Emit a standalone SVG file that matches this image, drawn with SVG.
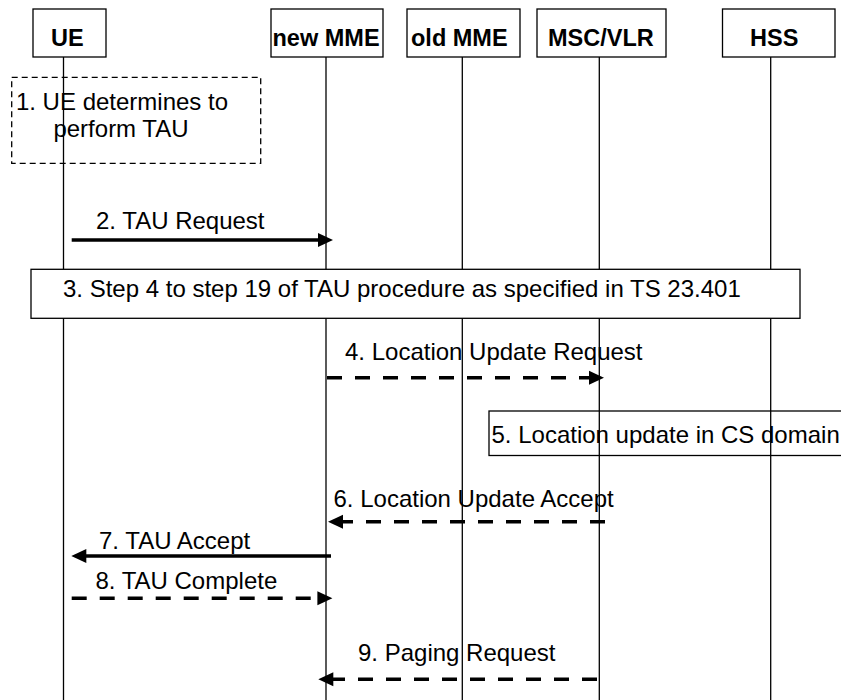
<svg xmlns="http://www.w3.org/2000/svg" width="841" height="700" viewBox="0 0 841 700">
<style>
.bg{fill:#fff}
.box{fill:#fff;stroke:#000;stroke-width:1.3}
.nofill{fill:none;stroke:#000;stroke-width:1.3}
.dbox{fill:none;stroke:#000;stroke-width:1.3;stroke-dasharray:6 4}
.life{stroke:#000;stroke-width:1.3}
.hdr{font-family:"Liberation Sans",Arial,sans-serif;font-weight:bold;font-size:23.5px;fill:#000}
.lbl{font-family:"Liberation Sans",Arial,sans-serif;font-size:24px;fill:#000}
.sol{stroke:#000;stroke-width:3.6;fill:none}
.dsh{stroke:#000;stroke-width:3.6;fill:none;stroke-dasharray:15 13}
.head{fill:#000}
</style>
<rect class="bg" x="0" y="0" width="841" height="700"/>
<g id="lifelines">
<line class="life" x1="63.5" y1="57" x2="63.5" y2="700"/>
<line class="life" x1="326" y1="57" x2="326" y2="700"/>
<line class="life" x1="462.3" y1="57" x2="462.3" y2="700"/>
<line class="life" x1="599.3" y1="57" x2="599.3" y2="700"/>
<line class="life" x1="770.7" y1="57" x2="770.7" y2="700"/>
</g>
<g id="UE"><rect class="box" x="33" y="9" width="73" height="48"/><text class="hdr" x="51" y="46">UE</text></g>
<g id="newMME"><rect class="box" x="271" y="9" width="112" height="48"/><text class="hdr" x="272.5" y="46">new MME</text></g>
<g id="oldMME"><rect class="box" x="407" y="9" width="113" height="48"/><text class="hdr" x="411" y="46">old MME</text></g>
<g id="MSCVLR"><rect class="box" x="537" y="9" width="129" height="48"/><text class="hdr" x="548" y="46">MSC/VLR</text></g>
<g id="HSS"><rect class="box" x="722.5" y="9" width="112.5" height="48"/><text class="hdr" x="750" y="46">HSS</text></g>
<g id="step1"><rect class="dbox" x="11.7" y="77.3" width="249" height="86"/>
<text class="lbl" x="122" y="110" text-anchor="middle">1. UE determines to</text>
<text class="lbl" x="121" y="137" text-anchor="middle">perform TAU</text></g>
<g id="step3"><rect class="box" x="31" y="269.3" width="769" height="49"/>
<text class="lbl" x="63" y="296.7">3. Step 4 to step 19 of TAU procedure as specified in TS 23.401</text></g>
<g id="step5"><rect class="nofill" x="489" y="411" width="360" height="44.5"/>
<text class="lbl" x="491.5" y="443">5. Location update in CS domain</text></g>
<g id="connectors">
<line class="sol" x1="71.7" y1="240" x2="320" y2="240"/>
<polygon class="head" points="333,240 318,233 318,247"/>
<line class="dsh" x1="327" y1="377.7" x2="591" y2="377.7"/>
<polygon class="head" points="604,377.7 589,370.7 589,384.7"/>
<line class="dsh" x1="605" y1="521.7" x2="341" y2="521.7"/>
<polygon class="head" points="328,521.7 343,514.7 343,528.7"/>
<line class="sol" x1="331" y1="556" x2="84" y2="556"/>
<polygon class="head" points="71.3,556 86.3,549 86.3,563"/>
<line class="dsh" x1="71.7" y1="598.3" x2="319" y2="598.3"/>
<polygon class="head" points="332.4,598.3 317.4,591.3 317.4,605.3"/>
<line class="dsh" x1="597" y1="679.3" x2="331" y2="679.3"/>
<polygon class="head" points="318.3,679.3 333.3,672.3 333.3,686.3"/>
</g>
<g id="labels">
<text class="lbl" x="96" y="229">2. TAU Request</text>
<text class="lbl" x="345" y="360">4. Location Update Request</text>
<text class="lbl" x="333.5" y="507.3">6. Location Update Accept</text>
<text class="lbl" x="99" y="549.3">7. TAU Accept</text>
<text class="lbl" x="95.4" y="589.3">8. TAU Complete</text>
<text class="lbl" x="358" y="660.7">9. Paging Request</text>
</g>
</svg>
